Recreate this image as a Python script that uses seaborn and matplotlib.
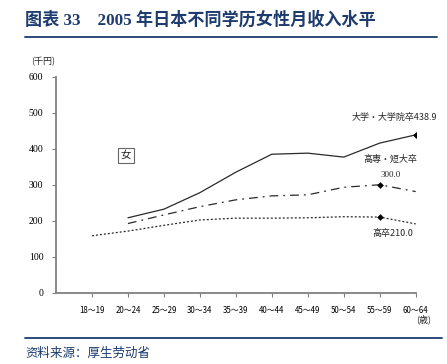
import numpy as np
import pandas as pd
import matplotlib
matplotlib.use("Agg")
import matplotlib.pyplot as plt
from matplotlib.lines import Line2D
import seaborn as sns

# ---- data ----
categories = ["18～19", "20～24", "25～29", "30～34", "35～39",
              "40～44", "45～49", "50～54", "55～59", "60～64"]
univ = [np.nan, 208, 232, 278, 335, 385, 388, 377, 416, 438.9]
junior = [np.nan, 192, 216, 239, 258, 269, 272, 293, 300.0, 281]
high = [158, 171, 187, 202, 207, 207, 208, 211, 210.0, 191]
yticks = [0, 100, 200, 300, 400, 500, 600]

sns.set_style("ticks")
plt.rcParams["font.family"] = ["Noto Sans CJK JP", "DejaVu Sans"]

W, H = 447, 364
fig = plt.figure(figsize=(W / 100, H / 100), dpi=100)
ax = fig.add_axes([56 / W, 1 - 292.5 / H, (415.7 - 56) / W, (292.5 - 77) / H])

xs = np.arange(len(categories))
df = pd.DataFrame({"x": xs, "univ": univ, "junior": junior, "high": high})

lc = "#2a2a2a"
sns.lineplot(data=df, x="x", y="univ", ax=ax, color=lc, lw=0.9, linestyle="-")
sns.lineplot(data=df, x="x", y="junior", ax=ax, color=lc, lw=0.9,
             linestyle=(0, (7, 4, 1.5, 4)))
sns.lineplot(data=df, x="x", y="high", ax=ax, color=lc, lw=0.9,
             linestyle=(0, (1.6, 1.6)))

# highlighted points
mk = pd.DataFrame({"x": [9, 8, 8], "y": [univ[9], junior[8], high[8]]})
sns.scatterplot(data=mk, x="x", y="y", ax=ax, marker="D", s=9, color="black",
                edgecolor="black", linewidth=0.4, zorder=5)

ax.set_xlim(-1, 9)
ax.set_ylim(0, 600)
ax.set_xticks(xs)
ax.set_xticklabels(categories, fontsize=5.7, family=["Noto Sans CJK JP"])
ax.set_yticks(yticks)
ax.set_yticklabels([str(v) for v in yticks], fontsize=7,
                   family=["Liberation Serif"])
ax.set_xlabel("")
ax.set_ylabel("")
for s in ["top", "right"]:
    ax.spines[s].set_visible(False)
for s in ["left", "bottom"]:
    ax.spines[s].set_color("#808080")
    ax.spines[s].set_linewidth(1.3)
ax.tick_params(axis="both", colors="#808080", length=3, width=0.8,
               labelcolor="black")
ax.tick_params(axis="x", pad=7)
ax.tick_params(axis="y", pad=6)

fs = 6.5
ax.text(9.6, 487, "大学・大学院卒438.9", ha="right", va="center", fontsize=fs,
        clip_on=False)
ax.text(8.3, 370, "高専・短大卒", ha="center", va="center", fontsize=fs,
        clip_on=False)
ax.text(8.3, 326, "300.0", ha="center", va="center", fontsize=fs,
        family=["Liberation Serif"], clip_on=False)
ax.text(8.35, 163, "高卒210.0", ha="center", va="center", fontsize=fs,
        clip_on=False)
ax.text(0.95, 382, "女", ha="center", va="center", fontsize=7.5,
        bbox=dict(boxstyle="square,pad=0.25", fc="white", ec="#666666", lw=0.8))

fig.text(43 / W, 1 - 62 / H, "(千円)", ha="center", va="center", fontsize=6.5)
fig.text(424 / W, 1 - 319 / H, "(歳)", ha="center", va="center", fontsize=6.5)

# title and decorations
navy = "#1d3b6e"
fig.text(25 / W, 1 - 20 / H, "图表 33    2005 年日本不同学历女性月收入水平",
         ha="left", va="center", fontsize=12.3, fontweight="bold", color=navy,
         family=["Liberation Serif", "Noto Sans CJK SC"])
fig.add_artist(Line2D([25 / W, 437 / W], [1 - 37 / H, 1 - 37 / H],
                      color=navy, lw=1.3, transform=fig.transFigure))
fig.add_artist(Line2D([25 / W, 442 / W], [1 - 338 / H, 1 - 338 / H],
                      color=navy, lw=1.3, transform=fig.transFigure))
fig.text(25 / W, 1 - 353 / H, "资料来源：厚生劳动省", ha="left", va="center",
         fontsize=9, color=navy, family=["Noto Sans CJK SC"])

fig.savefig("out.png", dpi=100)
